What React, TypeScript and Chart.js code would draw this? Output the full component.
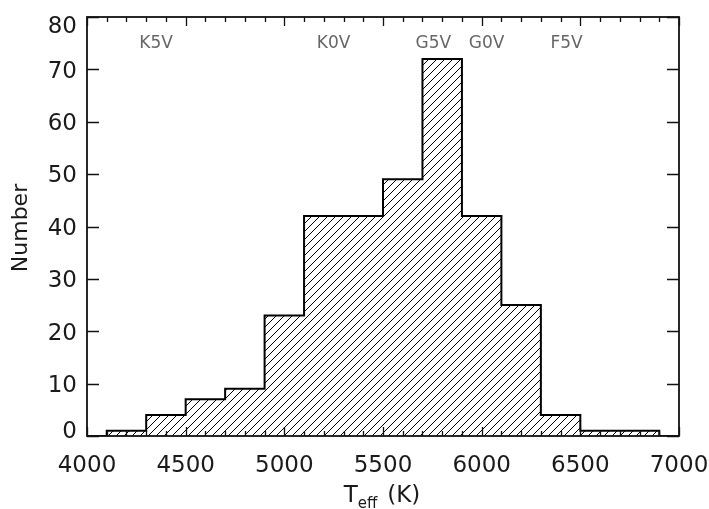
import React, { useEffect, useRef } from "react";
import { Chart, registerables } from "chart.js";

Chart.register(...registerables);

// Histogram bins (left edges, K) and counts
const binLeftEdges = [4100, 4300, 4500, 4700, 4900, 5100, 5300, 5500, 5700, 5900, 6100, 6300, 6500, 6700];
const binWidth = 200;
const counts = [1, 4, 7, 9, 23, 42, 42, 49, 72, 42, 25, 4, 1, 1];

// Spectral type markers
const specTypes = ["K5V", "K0V", "G5V", "G0V", "F5V"];
const specTemps = [4350, 5250, 5755, 6025, 6430];

// Axis tick labels
const xTickValues = [4000, 4500, 5000, 5500, 6000, 6500, 7000];
const yTickValues = [0, 10, 20, 30, 40, 50, 60, 70, 80];

const xMin = 4000;
const xMax = 7000;
const yMin = 0;
const yMax = 80;
const xMinorStep = 100;
const xMajorStep = 500;

const FONT = "'DejaVu Sans', sans-serif";
const TEXT = "#1a1a1a";

function makeHatch(): CanvasPattern | string {
  const s = 8;
  const c = document.createElement("canvas");
  c.width = s;
  c.height = s;
  const ctx = c.getContext("2d");
  if (!ctx) return "rgba(0,0,0,0.2)";
  ctx.strokeStyle = "#000";
  ctx.lineWidth = 1;
  ctx.beginPath();
  ctx.moveTo(-1, 1);
  ctx.lineTo(1, -1);
  ctx.moveTo(0, s);
  ctx.lineTo(s, 0);
  ctx.moveTo(s - 1, s + 1);
  ctx.lineTo(s + 1, s - 1);
  ctx.stroke();
  const p = ctx.createPattern(c, "repeat");
  return p || "rgba(0,0,0,0.2)";
}

const framePlugin = {
  id: "frameTicks",
  afterDraw(chart: any) {
    const { ctx, chartArea } = chart;
    const xs = chart.scales.x;
    const ys = chart.scales.y;
    const { left, right, top, bottom } = chartArea;
    ctx.save();
    ctx.strokeStyle = "#111";
    ctx.lineWidth = 1.8;
    ctx.strokeRect(left, top, right - left, bottom - top);

    ctx.lineWidth = 1.3;
    ctx.beginPath();
    for (let v = xMin; v <= xMax; v += xMinorStep) {
      const px = Math.round(xs.getPixelForValue(v)) + 0.5;
      const len = v % xMajorStep === 0 ? 9 : 5;
      ctx.moveTo(px, bottom);
      ctx.lineTo(px, bottom - len);
      ctx.moveTo(px, top);
      ctx.lineTo(px, top + len);
    }
    yTickValues.forEach((v) => {
      const py = Math.round(ys.getPixelForValue(v)) + 0.5;
      ctx.moveTo(left, py);
      ctx.lineTo(left + 12, py);
      ctx.moveTo(right, py);
      ctx.lineTo(right - 12, py);
    });
    ctx.stroke();

    // tick labels
    ctx.fillStyle = TEXT;
    ctx.font = `23px ${FONT}`;
    ctx.textBaseline = "alphabetic";
    ctx.textAlign = "center";
    xTickValues.forEach((v) => {
      ctx.fillText(String(v), xs.getPixelForValue(v), 472);
    });
    ctx.textAlign = "right";
    yTickValues.forEach((v) => {
      let off = 0;
      if (v === yMin) off = -6;
      if (v === yMax) off = 8;
      ctx.fillText(String(v), left - 10, ys.getPixelForValue(v) + 8.3 + off);
    });

    // spectral type labels
    ctx.fillStyle = "#666";
    ctx.font = `17px ${FONT}`;
    ctx.textAlign = "center";
    specTypes.forEach((t, i) => {
      ctx.fillText(t, xs.getPixelForValue(specTemps[i]), 48);
    });

    // x title T_eff (K)
    ctx.fillStyle = TEXT;
    ctx.textAlign = "left";
    const big = `23px ${FONT}`;
    const small = `15px ${FONT}`;
    ctx.font = big;
    const wT = ctx.measureText("T").width;
    const wK = ctx.measureText("(K)").width;
    ctx.font = small;
    const wE = ctx.measureText("eff").width;
    const gap = 10;
    const total = wT + wE + gap + wK;
    const cx = 382;
    let x0 = cx - total / 2;
    const base = 501.5;
    ctx.font = big;
    ctx.fillText("T", x0, base);
    x0 += wT;
    ctx.font = small;
    ctx.fillText("eff", x0, base + 6);
    x0 += wE + gap;
    ctx.font = big;
    ctx.fillText("(K)", x0, base);

    // y title
    ctx.save();
    ctx.translate(27, 228);
    ctx.rotate(-Math.PI / 2);
    ctx.textAlign = "center";
    ctx.font = `22px ${FONT}`;
    ctx.fillText("Number", 0, 0);
    ctx.restore();

    ctx.restore();
  },
};

export default function App() {
  const ref = useRef<HTMLCanvasElement | null>(null);

  useEffect(() => {
    document.body.style.margin = "0";
    if (!ref.current) return;

    const pts: { x: number; y: number }[] = [{ x: xMin, y: 0 }];
    binLeftEdges.forEach((e, i) => pts.push({ x: e, y: counts[i] }));
    const lastEdge = binLeftEdges[binLeftEdges.length - 1] + binWidth;
    pts.push({ x: lastEdge, y: 0 });
    pts.push({ x: xMax, y: 0 });

    const chart = new Chart(ref.current, {
      type: "line",
      data: {
        datasets: [
          {
            data: pts,
            stepped: "before" as any,
            borderColor: "#000",
            borderWidth: 2,
            pointRadius: 0,
            fill: "origin",
            backgroundColor: makeHatch() as any,
          },
        ],
      },
      options: {
        animation: false,
        responsive: false,
        maintainAspectRatio: false,
        layout: { padding: { top: 17, right: 30, left: 0, bottom: 0 } },
        plugins: {
          legend: { display: false },
          tooltip: { enabled: false },
        },
        scales: {
          x: {
            type: "linear",
            min: xMin,
            max: xMax,
            grid: { display: false, drawTicks: false },
            border: { display: false },
            ticks: { display: false },
            afterFit(scale: any) {
              scale.height = 73;
            },
          },
          y: {
            type: "linear",
            min: yMin,
            max: yMax,
            grid: { display: false, drawTicks: false },
            border: { display: false },
            ticks: { display: false },
            afterFit(scale: any) {
              scale.width = 87;
            },
          },
        },
      },
      plugins: [framePlugin],
    });
    return () => chart.destroy();
  }, []);

  return (
    <div style={{ width: 709, height: 509 }}>
      <canvas ref={ref} width={709} height={509} style={{ width: 709, height: 509, display: "block" }} />
    </div>
  );
}
